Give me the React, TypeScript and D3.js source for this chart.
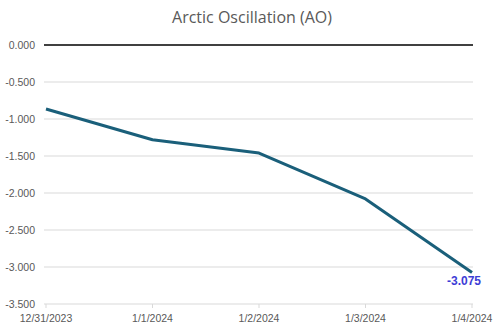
import React from "react";
import * as d3 from "d3";

const categories = ["12/31/2023", "1/1/2024", "1/2/2024", "1/3/2024", "1/4/2024"];
const values = [-0.865, -1.28, -1.46, -2.08, -3.075];
const yTicks = [0, -0.5, -1, -1.5, -2, -2.5, -3, -3.5];

export default function App() {
  const W = 504, H = 333;
  const left = 46, right = 472, top = 45, bottom = 304;
  const x = d3.scalePoint<string>().domain(categories).range([left, right]);
  const y = d3.scaleLinear().domain([-3.5, 0]).range([bottom, top]);
  const line = d3.line<number>().x((_, i) => x(categories[i])!).y((d) => y(d));
  const fmt = (v: number) => d3.format(".3f")(v).replace("\u2212", "-");
  const font = "'Liberation Sans', Arial, sans-serif";
  const last = values.length - 1;
  return (
    <svg width={W} height={H} style={{ position: "absolute", left: 0, top: 0, background: "#fff" }}>
      <rect width={W} height={H} fill="#fff" />
      <text x={252} y={23} textAnchor="middle" fontFamily="'Open Sans', 'Noto Sans', sans-serif" fontSize={16} fill="#595959">
        Arctic Oscillation (AO)
      </text>
      {yTicks.map((t) => (
        <g key={t}>
          {t !== 0 && t !== -3.5 && (
            <line x1={left - 2} x2={right + 1} y1={y(t)} y2={y(t)} stroke="#d9d9d9" strokeWidth={1} />
          )}
          <text x={35} y={y(t) + 3.5} textAnchor="end" fontFamily={font} fontSize={10.5} fill="#595959">
            {t === 0 ? "0.000" : fmt(t)}
          </text>
        </g>
      ))}
      <line x1={left - 2} x2={right + 1} y1={y(-3.5)} y2={y(-3.5)} stroke="#d9d9d9" strokeWidth={1} />
      {categories.map((c) => (
        <g key={c}>
          <line x1={x(c)} x2={x(c)} y1={y(-3.5)} y2={y(-3.5) + 4} stroke="#d9d9d9" />
          <text x={x(c)} y={322} textAnchor="middle" fontFamily={font} fontSize={10.5} fill="#595959">
            {c}
          </text>
        </g>
      ))}
      <line x1={left - 2} x2={right + 1} y1={y(0)} y2={y(0)} stroke="#000" strokeWidth={1.3} />
      <path d={line(values)!} fill="none" stroke="#1a5f7a" strokeWidth={3} strokeLinejoin="round" />
      <text x={x(categories[last])! - 8} y={y(values[last]) + 12.5} textAnchor="middle" fontFamily={font} fontSize={12} fontWeight="bold" fill="#3d3dd6">
        {fmt(values[last])}
      </text>
    </svg>
  );
}
